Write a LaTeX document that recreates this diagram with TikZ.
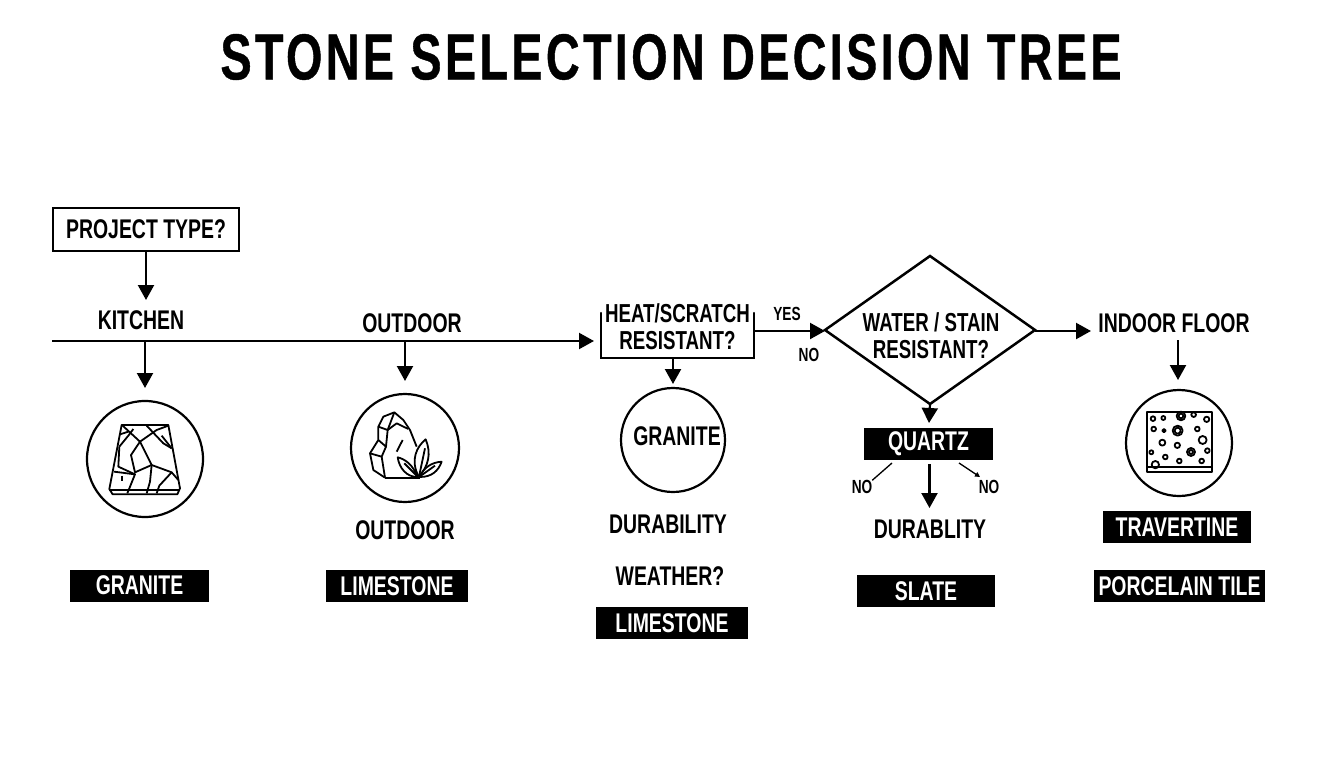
\documentclass[tikz,border=0pt]{standalone}
\usepackage{fontspec}
\setmainfont{Liberation Sans}[FakeStretch=0.72]
\usetikzlibrary{arrows.meta,shapes.geometric}
\tikzstyle{caption}=[
  font={\fontsize{27}{29}\selectfont\bfseries},
  inner sep=0pt,
  outer sep=0pt,
  align=center,
  text=black,
]
\tikzstyle{small}=[
  caption,
  font={\fontsize{19}{21}\selectfont\bfseries},
]
\tikzstyle{result}=[
  caption,
  fill=black,
  text=white,
  minimum height=32pt,
]
\tikzstyle{disc}=[
  circle,
  draw=black,
  line width=2.2pt,
  inner sep=0pt,
  outer sep=0pt,
]
\tikzstyle{arrow}=[
  draw=black,
  line width=2.2pt,
  -{Triangle[length=15pt,width=16pt]},
]
\tikzstyle{icon}=[
  draw=black,
  line width=1.8pt,
  line join=round,
]
\begin{document}
\begin{tikzpicture}[x=1pt,y=-1pt]
  \useasboundingbox (0,0) rectangle (1344,768);
  \node (title) [caption, font={\fontsize{65}{70}\selectfont\bfseries\addfontfeature{LetterSpace=5.1,FakeBold=0.6}}] at (671,57) {STONE SELECTION DECISION TREE};
  \node (project) [caption, draw=black, line width=2.5pt, minimum width=186pt, minimum height=43pt] at (146,229.5) {PROJECT TYPE?};
  \node (kitchen) [caption] at (141,320) {KITCHEN};
  \node (outdoor) [caption] at (412,323) {OUTDOOR};
  \node (heat) [caption, minimum width=153pt, minimum height=45pt] at (677.5,335.5) {};
  \node (heattext) [caption, font={\fontsize{26}{27}\selectfont\bfseries}] at (677.5,327) {HEAT/SCRATCH\\RESISTANT?};
  \node (water) [diamond, draw=black, line width=2.5pt, minimum width=210pt, minimum height=148pt, inner sep=0pt, outer sep=0pt, aspect=1.42] at (930,330) {};
  \node (watertext) [caption, font={\fontsize{26}{27}\selectfont\bfseries}] at (931,336) {WATER / STAIN\\RESISTANT?};
  \node (indoor) [caption] at (1174,323) {INDOOR FLOOR};
  \node (yes) [small] at (787,314) {YES};
  \node (no) [small] at (809,355) {NO};
  \node (noleft) [small] at (862,487) {NO};
  \node (noright) [small] at (989,487) {NO};
  \node (kitchendisc) [disc, minimum size=116pt] at (145,459) {};
  \node (outdoordisc) [disc, minimum size=108pt] at (405,448) {};
  \node (granitedisc) [disc, minimum size=104pt] at (673,440) {};
  \node (granitetext) [caption] at (677,436) {GRANITE};
  \node (indoordisc) [disc, minimum size=106pt] at (1179,443) {};
  \node (outdoorb) [caption] at (405,530) {OUTDOOR};
  \node (durability) [caption] at (668,524) {DURABILITY};
  \node (weather) [caption] at (670,576) {WEATHER?};
  \node (durablity) [caption] at (930,529) {DURABLITY};
  \node (granite) [result, minimum width=139pt] at (139.5,585.5) {GRANITE};
  \node (limestone) [result, minimum width=142pt] at (397,586) {LIMESTONE};
  \node (limestoneb) [result, minimum width=152pt] at (672,623) {LIMESTONE};
  \node (quartz) [result, minimum width=129pt] at (928.5,444) {QUARTZ};
  \node (slate) [result, minimum width=138pt] at (926,591) {SLATE};
  \node (travertine) [result, minimum width=148pt] at (1177,527) {TRAVERTINE};
  \node (porcelain) [result, minimum width=171pt] at (1179.5,586) {PORCELAIN TILE};
  \coordinate (linestart) at (52,341);
  \coordinate (lineend) at (594,341);
  \coordinate (kitchenfoot) at (145,341);
  \coordinate (kitchentip) at (145,388);
  \coordinate (outdoorfoot) at (405,341);
  \coordinate (outdoortip) at (405,381);
  \coordinate (projecttip) at (146,300);
  \coordinate (heatright) at (754,331);
  \coordinate (heatfoot) at (673,358);
  \coordinate (heattip) at (673,384);
  \coordinate (watertip) at (929,423);
  \coordinate (waterright) at (1035,331);
  \coordinate (waterleft) at (825,331);
  \coordinate (indoortip) at (1091,331);
  \coordinate (indoorfoot) at (1178,340);
  \coordinate (indoorend) at (1178,380);
  \coordinate (quartzfoot) at (929.5,464);
  \coordinate (quartztip) at (929.5,508);
  \coordinate (quartzleft) at (892,463);
  \coordinate (quartzright) at (959,463);
  \coordinate (norighttip) at (980,477);
  \draw [line width=2.5pt, line cap=round] (heat.north west) -- (heat.south west) -- (heat.south east) -- (heat.north east);
  \draw [arrow] (project) -- (projecttip);
  \draw [arrow] (linestart) -- (lineend);
  \draw [arrow] (kitchenfoot) -- (kitchentip);
  \draw [arrow] (outdoorfoot) -- (outdoortip);
  \draw [arrow] (heatright) -- (waterleft);
  \draw [arrow] (heatfoot) -- (heattip);
  \draw [arrow] (water.south) -- (watertip);
  \draw [arrow] (waterright) -- (indoortip);
  \draw [arrow] (indoorfoot) -- (indoorend);
  \draw [arrow] (quartzfoot) -- (quartztip);
  \draw [line width=1.3pt] (quartzleft) -- (noleft.north east);
  \draw [line width=1.3pt, -{Triangle[length=5pt,width=5pt]}] (quartzright) -- (norighttip);
  \begin{scope}[shift={(100,415)},x=.3333pt,y=-.3333pt]
    \draw [icon] (65,30) -- (205,30) -- (240,220) -- (232,238) -- (38,238) -- (28,222) -- cycle;
    \draw [icon] (28,225) -- (240,225);
    \draw [icon] (68,32) -- (120,80) -- (155,150) -- (105,172) -- (93,120) -- (120,80);
    \draw [icon] (120,80) -- (170,45) -- (205,32);
    \draw [icon] (140,32) -- (190,85) -- (215,100);
    \draw [icon] (185,62) -- (215,100);
    \draw [icon] (100,42) -- (85,62) -- (58,95);
    \draw [icon] (60,58) -- (85,50);
    \draw [icon] (42,170) -- (105,178) -- (82,235);
    \draw [icon] (58,95) -- (55,155) -- (105,178);
    \draw [icon] (155,150) -- (150,200) -- (140,235);
    \draw [icon] (155,150) -- (215,172) -- (178,212) -- (170,235);
    \draw [icon] (215,172) -- (235,195);
    \draw [icon] (67,182) -- (67,198);
  \end{scope}
  \begin{scope}[shift={(360,405)},x=.3333pt,y=-.3333pt]
    \draw [icon] (75,218) -- (40,195) -- (30,145) -- (55,105) -- (55,65) -- (70,35) -- (103,22) -- (130,45) -- (150,75) -- (170,125);
    \draw [icon] (75,218) -- (180,218);
    \draw [icon] (55,65) -- (83,75) -- (103,22);
    \draw [icon] (83,75) -- (110,55) -- (145,72);
    \draw [icon] (83,75) -- (78,125) -- (55,105);
    \draw [icon] (78,125) -- (65,155) -- (30,145);
    \draw [icon] (65,155) -- (75,218);
    \draw [icon] (128,105) -- (110,140);
    \draw [icon, fill=white] (176,215) .. controls (150,165) and (170,125) .. (197,103) .. controls (215,145) and (205,185) .. (176,215);
    \draw [icon, fill=white] (172,216) .. controls (160,180) and (135,162) .. (113,157) .. controls (118,190) and (140,216) .. (172,216);
    \draw [icon, fill=white] (180,216) .. controls (190,188) and (215,172) .. (245,170) .. controls (235,198) and (215,216) .. (180,216);
    \draw [icon] (195,130) -- (177,215);
    \draw [icon] (133,175) -- (172,214);
    \draw [icon] (225,182) -- (180,214);
  \end{scope}
  \begin{scope}[shift={(1030,300)},x=.3333pt,y=-.3333pt]
    \draw [icon] (351,337) rectangle (545,515);
    \draw [icon] (351,502) -- (545,502);
    \foreach \cx/\cy/\cr in {369/356/7,400/354/6,453/348/13,491/344/7,530/358/8,371/387/7,402/392/5,443/392/15,502/387/7,518/420/12,397/428/9,442/436/8,483/456/12,532/452/7,364/457/6,406/471/7,448/483/7,515/483/7,376/494/11}
      \draw [icon] (\cx,\cy) circle [radius=\cr];
    \draw [icon] (443,392) circle [radius=9];
    \draw [icon] (483,456) circle [radius=6];
    \draw [icon] (453,348) circle [radius=7];
  \end{scope}
\end{tikzpicture}
\end{document}
